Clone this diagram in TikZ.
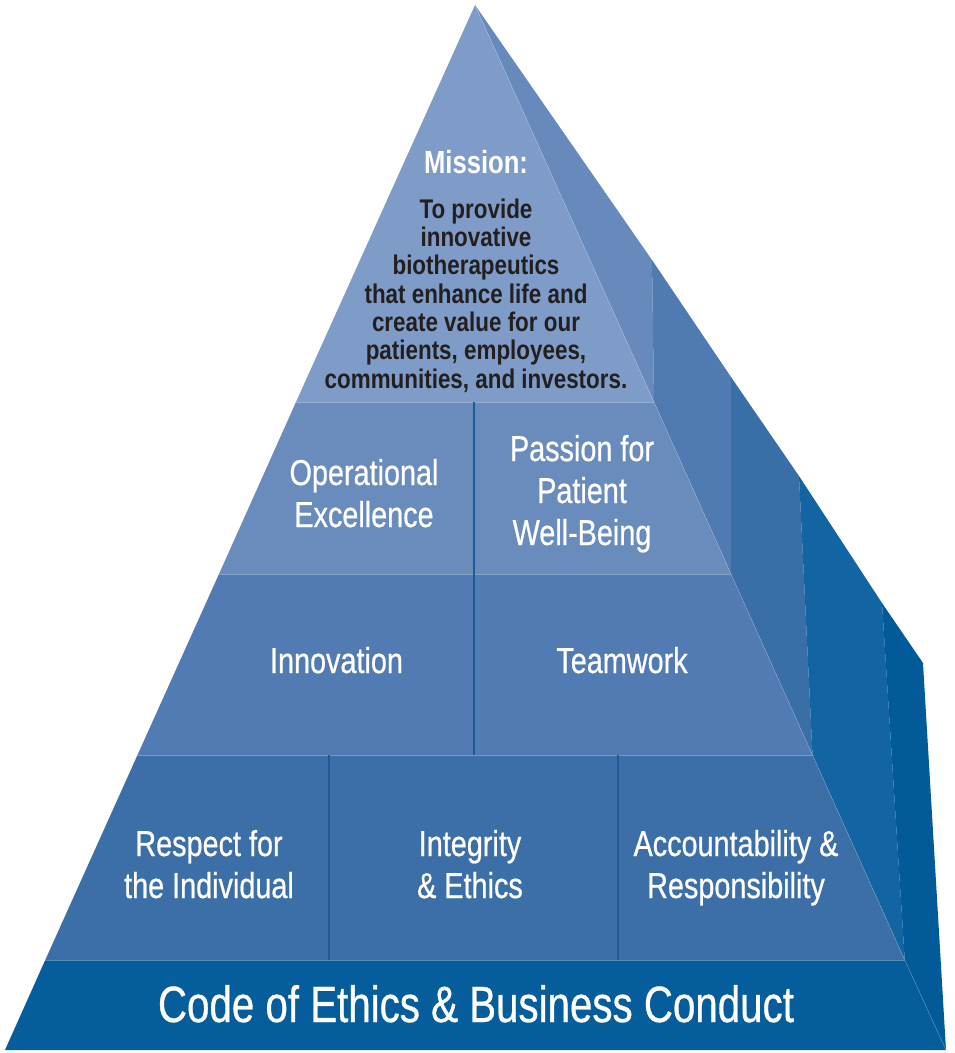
\documentclass[tikz,border=0pt]{standalone}
\usepackage{fontspec}
\setmainfont{Liberation Sans}
\newfontfamily\tierfont{Liberation Sans}[FakeStretch=0.8, FakeBold=0.6]
\newfontfamily\codefont{Liberation Sans}[FakeStretch=0.79, FakeBold=0.6]
\newfontfamily\missfont{Liberation Sans}[FakeStretch=0.8]
\newfontfamily\bodyfont{Liberation Sans}[FakeStretch=0.83]
\definecolor{fA}{HTML}{7F9CC8}
\definecolor{fB}{HTML}{6A8CBD}
\definecolor{fC}{HTML}{517BB2}
\definecolor{fD}{HTML}{3C6FA7}
\definecolor{fE}{HTML}{065D9B}
\definecolor{sA}{HTML}{6889BB}
\definecolor{sB}{HTML}{4F7AB2}
\definecolor{sC}{HTML}{3A6EA7}
\definecolor{sD}{HTML}{1264A2}
\definecolor{sE}{HTML}{035A98}
\definecolor{divc}{HTML}{1F5A98}
\definecolor{inkc}{HTML}{231F20}
\tikzset{
  sep/.style={draw=white, draw opacity=0.3, line width=1pt},
  divider/.style={draw=divc, line width=1.6pt},
  tiertext/.style={text=white, align=center, inner sep=0pt, anchor=base,
    font=\tierfont\fontsize{36}{42}\selectfont},
}
\begin{document}
\begin{tikzpicture}[x=1pt, y=-1pt]
\useasboundingbox (0,0) rectangle (955,1053);
% front face corners
\coordinate (apex) at (475,5);
\coordinate (l1) at (296,402);   \coordinate (r1) at (654,402);
\coordinate (l2) at (219,574);   \coordinate (r2) at (731,574);
\coordinate (l3) at (137.5,755); \coordinate (r3) at (812.5,755);
\coordinate (l4) at (45.25,960); \coordinate (r4) at (904.75,960);
\coordinate (l5) at (5,1050);    \coordinate (r5) at (946,1050);
% outer silhouette
\coordinate (o1) at (652,260);
\coordinate (o2) at (731,377);
\coordinate (o3) at (799,476);
\coordinate (o4) at (882,603);
\coordinate (o5) at (923,663);
% side faces
\fill[sA] (apex) -- (o1) -- (r1) -- cycle;
\fill[sB] (o1) -- (o2) -- (r2) -- (r1) -- cycle;
\fill[sC] (o2) -- (o3) -- (r3) -- (r2) -- cycle;
\fill[sD] (o3) -- (o4) -- (r4) -- (r3) -- cycle;
\fill[sE] (o4) -- (o5) -- (r5) -- (r4) -- cycle;
% front tiers
\fill[fA] (apex) -- (r1) -- (l1) -- cycle;
\fill[fB] (l1) -- (r1) -- (r2) -- (l2) -- cycle;
\fill[fC] (l2) -- (r2) -- (r3) -- (l3) -- cycle;
\fill[fD] (l3) -- (r3) -- (r4) -- (l4) -- cycle;
\fill[fE] (l4) -- (r4) -- (r5) -- (l5) -- cycle;
% separators
\draw[sep] (l1) -- (r1);
\draw[sep] (l2) -- (r2);
\draw[sep] (l3) -- (r3);
\draw[sep] (l4) -- (r4);
\draw[sep, draw opacity=0.2, line width=0.6pt] (apex) -- (r1) -- (r2) -- (r3) -- (r4) -- (r5);
% dividers
\coordinate (d1t) at (474,402); \coordinate (d1b) at (474,755);
\coordinate (d2t) at (329,755); \coordinate (d2b) at (329,960);
\coordinate (d3t) at (618,755); \coordinate (d3b) at (618,960);
\draw[divider] (d1t) -- (d1b);
\draw[divider] (d2t) -- (d2b);
\draw[divider] (d3t) -- (d3b);
% texts
\node[text=white, inner sep=0pt, anchor=base, font=\missfont\bfseries\fontsize{32}{36}\selectfont] (mission) at (476,173) {Mission:};
\node[text=inkc, align=center, inner sep=0pt, anchor=base, font=\bodyfont\bfseries\fontsize{27}{28.3}\selectfont] (missiontext) at (476,388)
  {To provide\\innovative\\biotherapeutics\\that enhance life and\\create value for our\\patients, employees,\\communities, and investors.};
\node[tiertext] (opex) at (364,527) {Operational\\Excellence};
\node[tiertext] (passion) at (582,545) {Passion for\\Patient\\Well-Being};
\node[tiertext] (innov) at (336.5,673) {Innovation};
\node[tiertext] (team) at (622,673) {Teamwork};
\node[tiertext] (respect) at (209,898) {Respect for\\the Individual};
\node[tiertext] (integrity) at (470,898) {Integrity\\\& Ethics};
\node[tiertext] (account) at (736,898) {Accountability \&\\Responsibility};
\node[text=white, inner sep=0pt, anchor=base, font=\codefont\fontsize{51}{56}\selectfont] (code) at (476,1022) {Code of Ethics \& Business Conduct};
\end{tikzpicture}
\end{document}
